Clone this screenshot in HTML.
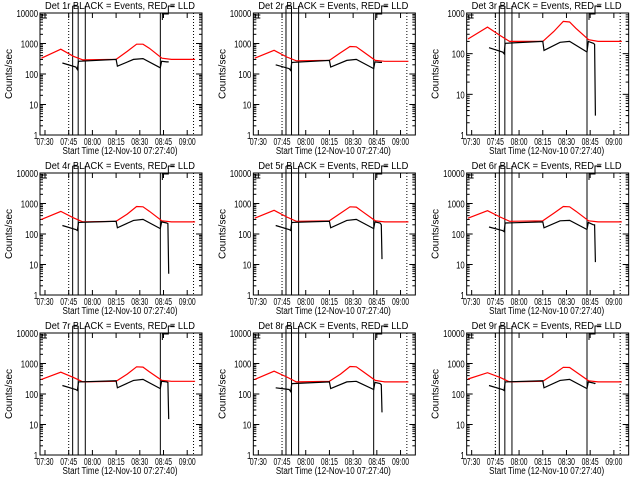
<!DOCTYPE html>
<html><head><meta charset="utf-8"><style>
body{margin:0;background:#fff;width:640px;height:480px;overflow:hidden}
svg text{font-family:"Liberation Sans",sans-serif;font-size:10px;fill:#000}
</style></head><body>
<svg id="c" width="640" height="480" viewBox="0 0 640 480" xmlns="http://www.w3.org/2000/svg"></svg>
<script>
const detNames = ["1r","2r","3r","4r","5r","6r","7r","8r","9r"];
const yMaxes = [10000,10000,1000,10000,10000,10000,10000,10000,10000];
const tickLabels = ["07:30","07:45","08:00","08:15","08:30","08:45","09:00"];
const tickMinutes = [0,15,30,45,60,75,90];
// minutes after 07:30
const redTimes = [-2.3,10,18,24,45,52,58,62,66,74,80,95];
const redValues = [
 [330,650,380,290,300,550,950,950,700,330,300,300],
 [330,600,360,270,280,500,800,780,560,280,260,260],
 [230,450,280,200,200,350,620,600,420,220,200,200],
 [300,550,340,250,260,450,800,780,560,270,250,250],
 [330,600,360,260,270,480,780,760,540,270,250,250],
 [330,580,360,260,270,480,800,780,560,270,250,250],
 [300,520,350,250,260,450,780,760,540,280,260,260],
 [300,560,360,250,260,450,800,780,560,280,250,250],
 [310,500,350,250,260,450,750,740,530,270,250,250]
];
const blackTimes = [11,19.5,20.5,21.2,45,45.8,56,62,73,73.8,77,77.8,78.3];
const blackValues = [
 [230,170,140,260,300,180,300,320,160,260,250,250,250],
 [200,150,130,240,280,170,280,300,150,250,240,240,240],
 [140,110,100,180,200,120,190,200,110,200,180,170,3],
 [190,140,130,240,260,160,280,300,150,250,230,220,5],
 [190,140,130,240,260,160,280,300,150,250,230,200,15],
 [170,130,120,230,250,160,270,280,140,240,200,200,12],
 [190,140,130,250,270,160,280,300,150,260,250,240,15],
 [160,140,120,220,250,150,250,260,140,240,220,200,25],
 [190,140,130,250,270,160,280,300,150,250,230,220,230]
];
const solidLines = [17.5,21,25.5,73];
const dottedLines = [15,94];

const svg = document.getElementById('c');
const NS = "http://www.w3.org/2000/svg";
function mk(tag, attrs, parent){const e=document.createElementNS(NS,tag);for(const k in attrs)e.setAttribute(k,attrs[k]);parent.appendChild(e);return e;}

for(let p=0;p<9;p++){
  const ox = (p%3)*640/3, oy = Math.floor(p/3)*160;
  const L=ox+40, R=ox+202, T=oy+13, B=oy+135;
  const g = mk('g',{},svg);
  
  
  const ymax=yMaxes[p], dec=Math.log10(ymax);
  const xs = t => L + 5 + t*1.58;
  const ys = v => B - Math.log10(Math.max(v,1))/dec*(B-T);
  const t1 = mk('text',{x:ox+120,y:oy+9,'text-anchor':'middle',textLength:150,lengthAdjust:'spacingAndGlyphs'},g);
  t1.textContent='Det '+detNames[p]+' BLACK = Events, RED = LLD';
  
  
  const fr = mk('rect',{x:L,y:T,width:R-L,height:B-T,fill:'none',stroke:'#000','stroke-width':1},g);
  
  
  tickMinutes.forEach((m,i)=>{
    const x=xs(m);
    mk('line',{x1:x,x2:x,y1:B,y2:B-5,stroke:'#000'},g);
    mk('line',{x1:x,x2:x,y1:T,y2:T+5,stroke:'#000'},g);
    const tl=mk('text',{x:x,y:B+10,'text-anchor':'middle','font-size':9,textLength:17,lengthAdjust:'spacingAndGlyphs'},g);
    tl.textContent=tickLabels[i];
    
    
  });
  for(let d=0;d<=dec;d++){
    const v=Math.pow(10,d), y=ys(v);
    mk('line',{x1:L,x2:L+6,y1:y,y2:y,stroke:'#000'},g);
    mk('line',{x1:R,x2:R-6,y1:y,y2:y,stroke:'#000'},g);
    const s=String(v);
    const yl=mk('text',{x:L-2,y:y+4,'text-anchor':'end','font-size':9,textLength:s.length*4.3,lengthAdjust:'spacingAndGlyphs'},g);
    yl.textContent=s;
    
    
    if(d<dec) for(let k=2;k<10;k++){const yy=ys(v*k);
      mk('line',{x1:L,x2:L+3,y1:yy,y2:yy,stroke:'#000'},g);
      mk('line',{x1:R,x2:R-3,y1:yy,y2:yy,stroke:'#000'},g);}
  }
  const xt=mk('text',{x:ox+120,y:oy+154,'text-anchor':'middle',textLength:115,lengthAdjust:'spacingAndGlyphs'},g);
  xt.textContent='Start Time (12-Nov-10 07:27:40)';
  
  
  const yt=mk('text',{x:0,y:0,'text-anchor':'middle',transform:`translate(${ox+12},${(T+B)/2}) rotate(-90)`,'font-size':'9'},g);
  yt.textContent='Counts/sec';
  
  
  solidLines.forEach(t=>{const x=xs(t);mk('line',{x1:x,x2:x,y1:(t<30?oy+6:T),y2:B,stroke:'#000'},g);});
  mk('line',{x1:xs(17.5),x2:xs(21),y1:oy+6,y2:oy+6,stroke:'#000'},g);
  mk('polyline',{points:`${xs(73)+2},${oy+20} ${xs(73)+2},${oy+14} ${xs(73)+8},${oy+14} ${xs(73)+8},${oy+6} ${xs(73)+14},${oy+6}`,fill:'none',stroke:'#000'},g);
  mk('polyline',{points:`${L+7},${T+5} ${L+2},${T+5} ${L+2},${T+2} ${L+7},${T+2}`,fill:'none',stroke:'#000'},g);
  dottedLines.forEach(t=>{const x=xs(t);mk('line',{x1:x,x2:x,y1:T,y2:B,stroke:'#000','stroke-dasharray':'1,2'},g);});
  const rp=redTimes.map((t,i)=>xs(t).toFixed(1)+','+ys(redValues[p][i]).toFixed(1)).join(' ');
  const rl=mk('polyline',{points:rp,fill:'none',stroke:'#ff0000','stroke-width':1.2},g);
  
  
  const bp=blackTimes.map((t,i)=>xs(t).toFixed(1)+','+ys(blackValues[p][i]).toFixed(1)).join(' ');
  const bl=mk('polyline',{points:bp,fill:'none',stroke:'#000','stroke-width':1.2},g);
  
  
}
</script>
</body></html>
